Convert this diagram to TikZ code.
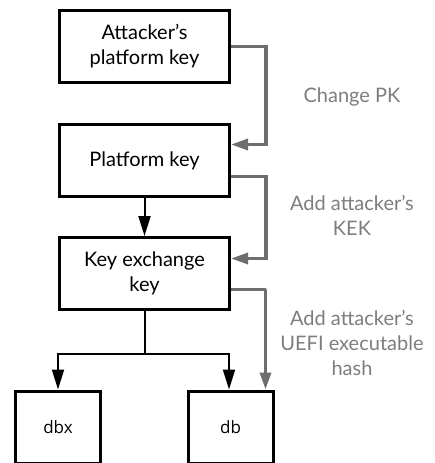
\documentclass[tikz,border=0pt]{standalone}
\usepackage{fontspec}
\setmainfont{Lato}
\newfontfamily\dbfont{Open Sans}
\usetikzlibrary{arrows.meta,positioning,calc}
\definecolor{arrowgray}{RGB}{110,110,110}
\definecolor{labelgray}{RGB}{125,125,125}

\begin{document}
\begin{tikzpicture}[x=1pt,y=-1pt,
    keybox/.style={draw, line width=3pt, minimum width=170pt, minimum height=72pt,
        align=center, inner sep=0pt, font=\fontsize{20}{25}\selectfont},
    dbbox/.style={draw, line width=3pt, minimum width=85pt, minimum height=72pt,
        inner sep=0pt, font=\dbfont\fontsize{17}{19}\selectfont},
    blackarrow/.style={line width=2pt, -{Triangle[length=20pt,width=12pt]}},
    grayarrow/.style={arrowgray, line width=3.3pt, -{Triangle[length=17pt,width=11pt]}},
    graylabel/.style={labelgray, align=center, font=\fontsize{20}{25}\selectfont}]
    \useasboundingbox (0,0) rectangle (434,463);

    % --- Key boxes ---
    \node[keybox] (atk) at (144.5,46.5) {Attacker's\\platform key};
    \node[keybox] (pk)  at (144.5,160.5) {Platform key};
    \node[keybox] (kek) at (144.5,273.5) {Key exchange\\key};

    % --- Databases ---
    \node[dbbox] (dbx) at (58,427) {dbx};
    \node[dbbox] (db)  at (230.5,427) {db};

    % Black arrows
    \draw[blackarrow] (pk) -- (kek);
    \draw[blackarrow] (kek.south) -- ++(0,43) -| (dbx.north);
    \draw[blackarrow] (kek.south) -- ++(0,43) -| ([xshift=-1.5pt]db.north);

    % Attacker's changes
    \draw[grayarrow] (atk.east) -- ++(35,0) |- ([yshift=16pt]pk.east);
    \draw[grayarrow] ([yshift=-16pt]pk.east) -- ++(35,0) |- ([yshift=15pt]kek.east);
    \draw[grayarrow] ([yshift=-16pt]kek.east) -- ++(35,0) -| ([xshift=-9pt]db.north east);

    \node[graylabel] (chpk)  at (352,97)  {Change PK};
    \node[graylabel] (addkek) at (352,215) {Add attacker's\\KEK};
    \node[graylabel] (addhash) at (352,343) {Add attacker's\\UEFI executable\\hash};
\end{tikzpicture}
\end{document}
